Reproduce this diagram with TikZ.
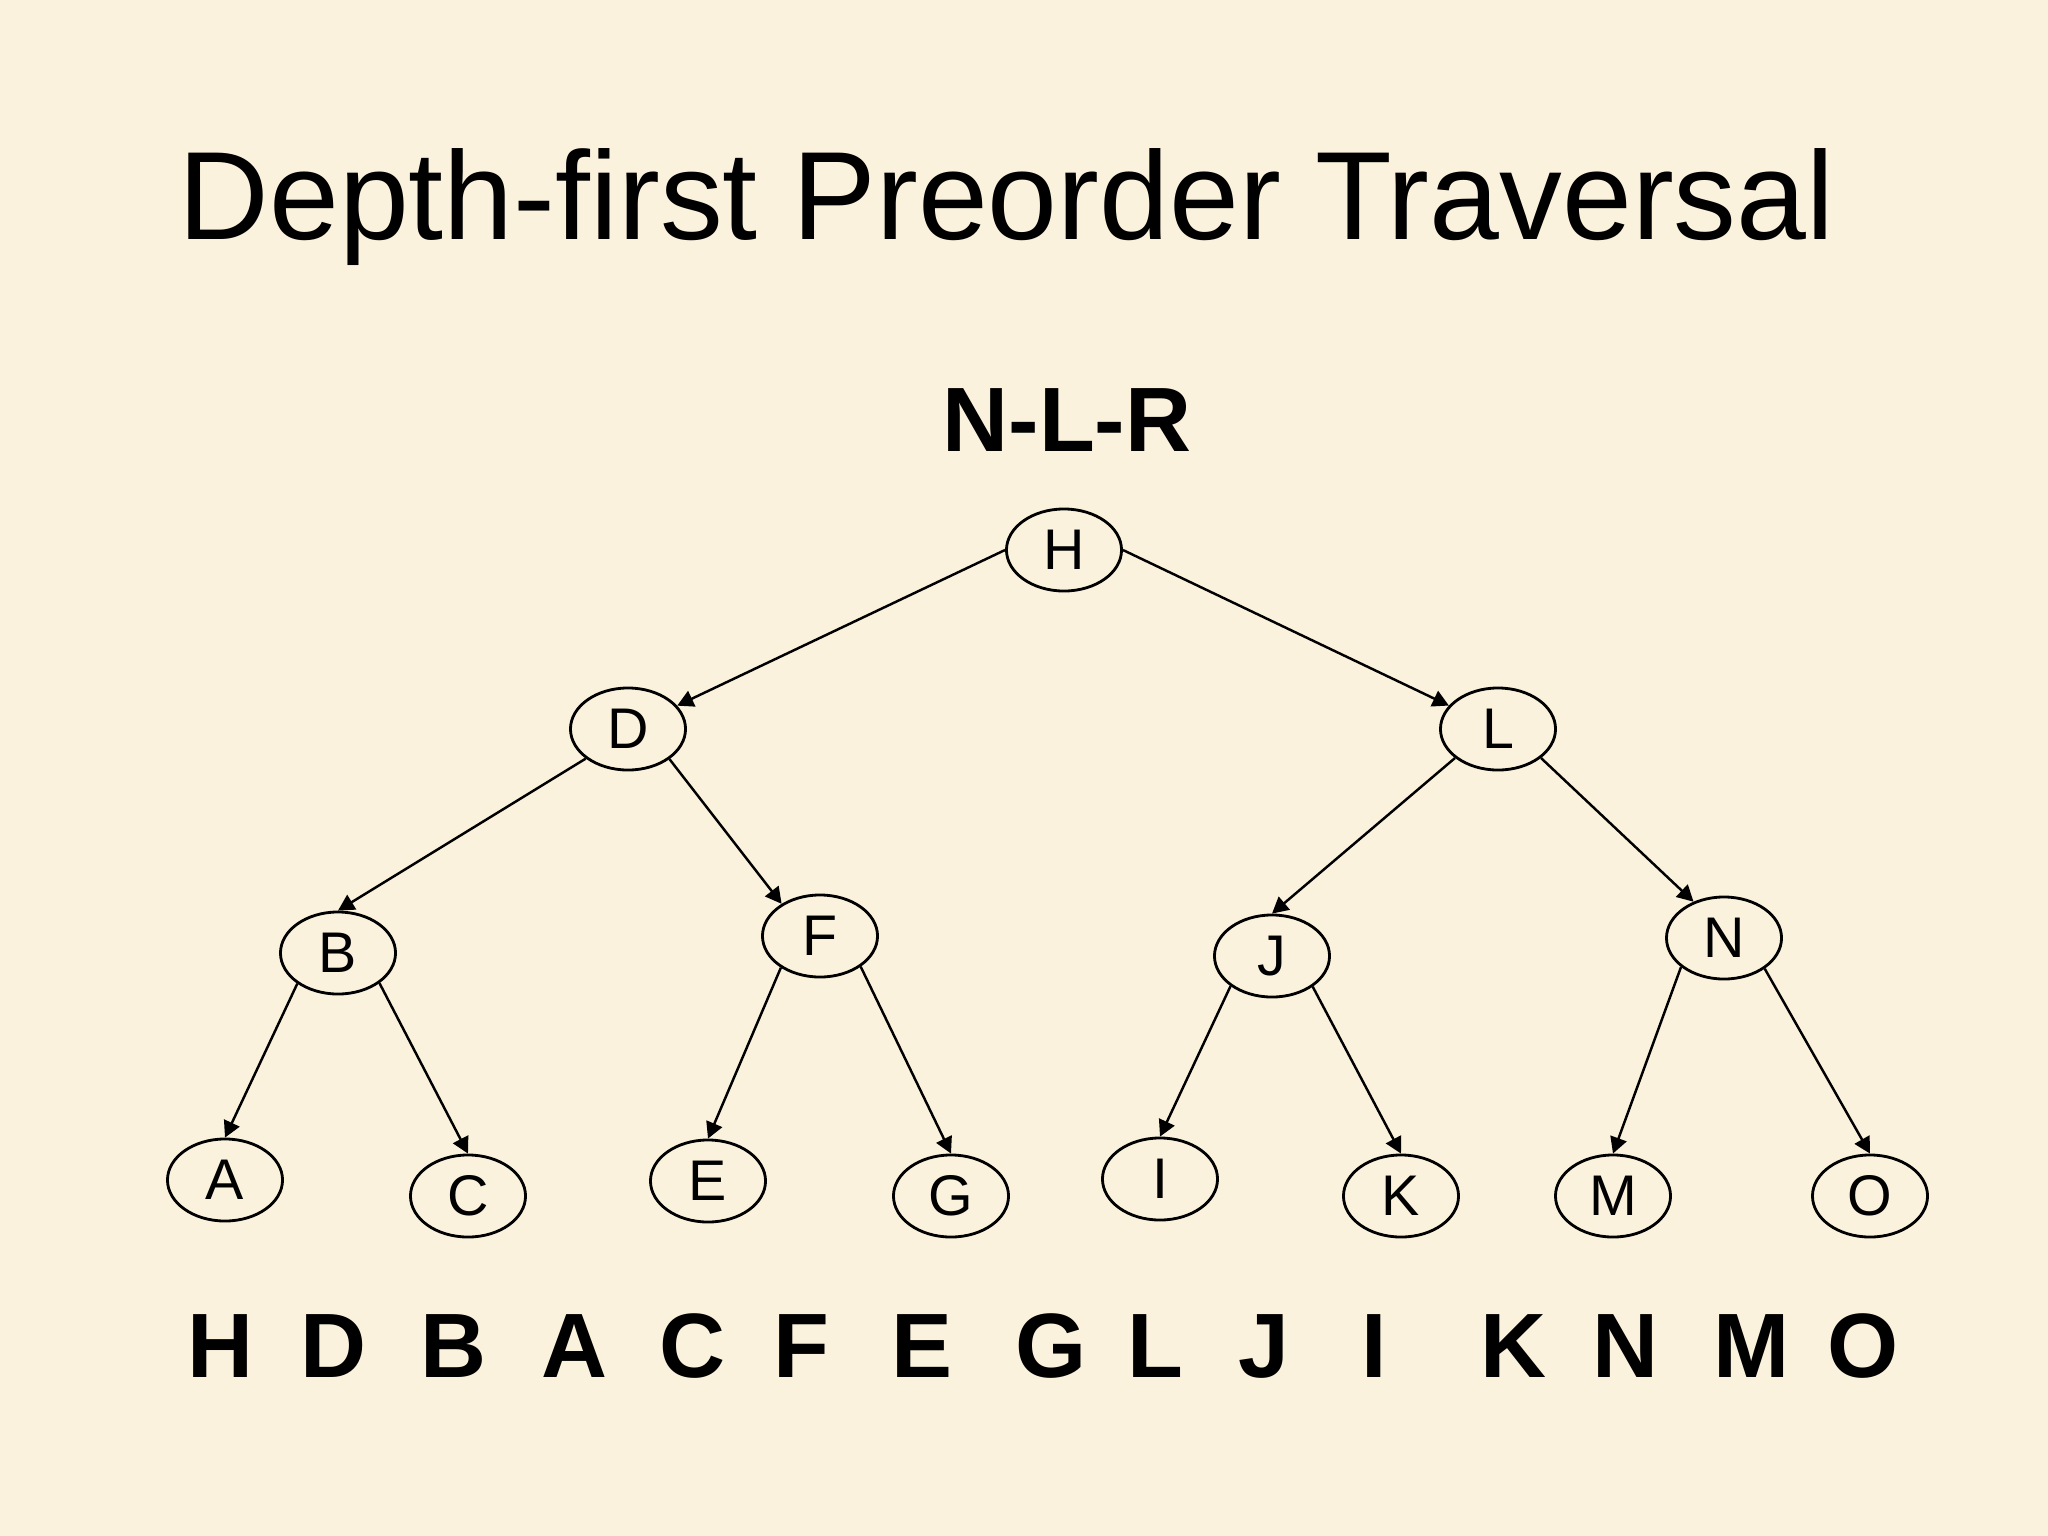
\documentclass[tikz,border=0pt]{standalone}
\usepackage{fontspec}
\setmainfont{Liberation Sans}
\usetikzlibrary{shapes.geometric,arrows.meta}
\definecolor{papel}{RGB}{250,242,221}
\begin{document}
\begin{tikzpicture}[x=0.01cm,y=-0.01cm,
    vtx/.style={draw,ellipse,line width=0.8pt,minimum width=1.15cm,minimum height=0.82cm,inner sep=0pt,font=\fontsize{16.3}{18}\selectfont},
    edge/.style={-{Triangle[length=4.6pt,width=4.8pt]},line width=0.7pt},
    seqletter/.style={anchor=base,font=\fontsize{26}{30}\selectfont\bfseries}]
    \fill[papel] (0,0) rectangle (2048,1536);
    \useasboundingbox (0,0) rectangle (2048,1536);
    % titulo
    \node[anchor=base west,inner sep=0pt,font=\fontsize{35.7}{40}\selectfont] (title) at (178,239) {Depth-first Preorder Traversal};
    \node[anchor=base,inner sep=0pt,font=\fontsize{26}{30}\selectfont\bfseries] (nlr) at (1067,451) {N-L-R};
    % arbol
    \node[vtx] (H) at (1064,550) {H};
    \node[vtx] (D) at (628,729) {D};
    \node[vtx] (L) at (1498,729) {L};
    \node[vtx] (B) at (338,953) {B};
    \node[vtx] (F) at (820,936) {F};
    \node[vtx] (J) at (1272,956) {J};
    \node[vtx] (N) at (1724,938) {N};
    \node[vtx] (A) at (225,1180) {A};
    \node[vtx] (C) at (468,1196) {C};
    \node[vtx] (E) at (708,1181) {E};
    \node[vtx] (G) at (951,1196) {G};
    \node[vtx] (I) at (1160,1179) {I};
    \node[vtx] (K) at (1401,1196) {K};
    \node[vtx] (M) at (1613,1196) {M};
    \node[vtx] (O) at (1870,1196) {O};
    \draw[edge] (H.west) -- (D);
    \draw[edge] (H.east) -- (L);
    \draw[edge] (D.215) -- (B.north);
    \draw[edge] (D.-36) -- (F.140);
    \draw[edge] (L.214) -- (J.north);
    \draw[edge] (L.-34) -- (N.130);
    \draw[edge] (B.-143) -- (A.north);
    \draw[edge] (B.-36) -- (C.north);
    \draw[edge] (F.-141) -- (E.north);
    \draw[edge] (F.-37) -- (G.north);
    \draw[edge] (J.-144) -- (I.north);
    \draw[edge] (J.-37) -- (K.north);
    \draw[edge] (N.-146) -- (M.north);
    \draw[edge] (N.-37) -- (O.north);
    % recorrido
    \foreach \ch/\xx [count=\i] in {H/221,D/334,B/454,A/575,C/693,F/801,E/922,G/1051,L/1155,J/1264,I/1374,K/1513,N/1625,M/1752,O/1863}
        \node[seqletter] (out\i) at (\xx,1377) {\ch};
\end{tikzpicture}
\end{document}
